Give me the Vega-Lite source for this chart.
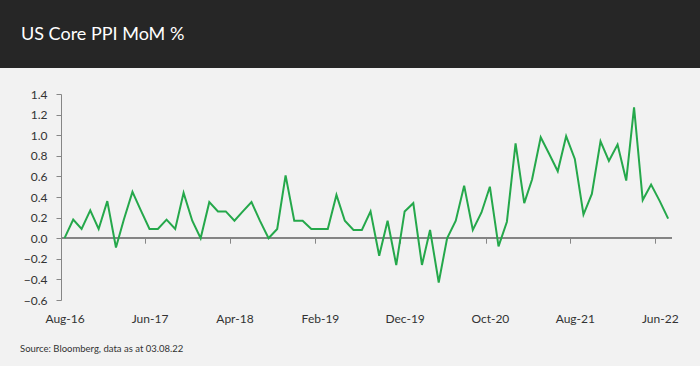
{
  "$schema": "https://vega.github.io/schema/vega-lite/v6.json",
  "background": "#f2f2f2",
  "padding": {"left": 0, "top": 0, "right": 0, "bottom": 14},
  "config": {
    "view": {"stroke": null},
    "axis": {"labelFont": "Lato", "labelFontSize": 12, "labelColor": "#333333"}
  },
  "spacing": 20,
  "vconcat": [
    {
      "width": 700,
      "height": 68,
      "view": {"fill": "#262626", "stroke": null},
      "data": {"values": [{}]},
      "mark": {"type": "rect", "color": "#262626"},
      "encoding": {},
      "title": {
        "text": "US Core PPI MoM %",
        "anchor": "start",
        "frame": "group",
        "orient": "top",
        "offset": -40,
        "baseline": "alphabetic",
        "dx": 21,
        "dy": 18,
        "color": "#ffffff",
        "font": "Lato",
        "fontSize": 18,
        "fontWeight": "normal"
      }
    },
    {
      "width": 700,
      "height": 206,
      "data": {
        "values": [
          {"date": "2016-08", "value": 0.0},
          {"date": "2016-09", "value": 0.18},
          {"date": "2016-10", "value": 0.09},
          {"date": "2016-11", "value": 0.27},
          {"date": "2016-12", "value": 0.09},
          {"date": "2017-01", "value": 0.36},
          {"date": "2017-02", "value": -0.09},
          {"date": "2017-03", "value": 0.18},
          {"date": "2017-04", "value": 0.45},
          {"date": "2017-05", "value": 0.27},
          {"date": "2017-06", "value": 0.09},
          {"date": "2017-07", "value": 0.09},
          {"date": "2017-08", "value": 0.18},
          {"date": "2017-09", "value": 0.09},
          {"date": "2017-10", "value": 0.44},
          {"date": "2017-11", "value": 0.17},
          {"date": "2017-12", "value": 0.0},
          {"date": "2018-01", "value": 0.35},
          {"date": "2018-02", "value": 0.26},
          {"date": "2018-03", "value": 0.26},
          {"date": "2018-04", "value": 0.17},
          {"date": "2018-05", "value": 0.26},
          {"date": "2018-06", "value": 0.35},
          {"date": "2018-07", "value": 0.17},
          {"date": "2018-08", "value": 0.0},
          {"date": "2018-09", "value": 0.09},
          {"date": "2018-10", "value": 0.61},
          {"date": "2018-11", "value": 0.17},
          {"date": "2018-12", "value": 0.17},
          {"date": "2019-01", "value": 0.09},
          {"date": "2019-02", "value": 0.09},
          {"date": "2019-03", "value": 0.09},
          {"date": "2019-04", "value": 0.42},
          {"date": "2019-05", "value": 0.17},
          {"date": "2019-06", "value": 0.08},
          {"date": "2019-07", "value": 0.08},
          {"date": "2019-08", "value": 0.26},
          {"date": "2019-09", "value": -0.17},
          {"date": "2019-10", "value": 0.17},
          {"date": "2019-11", "value": -0.26},
          {"date": "2019-12", "value": 0.26},
          {"date": "2020-01", "value": 0.34},
          {"date": "2020-02", "value": -0.26},
          {"date": "2020-03", "value": 0.08},
          {"date": "2020-04", "value": -0.43},
          {"date": "2020-05", "value": 0.0},
          {"date": "2020-06", "value": 0.17},
          {"date": "2020-07", "value": 0.51},
          {"date": "2020-08", "value": 0.08},
          {"date": "2020-09", "value": 0.25},
          {"date": "2020-10", "value": 0.50},
          {"date": "2020-11", "value": -0.08},
          {"date": "2020-12", "value": 0.16},
          {"date": "2021-01", "value": 0.92},
          {"date": "2021-02", "value": 0.34},
          {"date": "2021-03", "value": 0.57},
          {"date": "2021-04", "value": 0.98},
          {"date": "2021-05", "value": 0.82},
          {"date": "2021-06", "value": 0.65},
          {"date": "2021-07", "value": 0.99},
          {"date": "2021-08", "value": 0.77},
          {"date": "2021-09", "value": 0.23},
          {"date": "2021-10", "value": 0.43},
          {"date": "2021-11", "value": 0.94},
          {"date": "2021-12", "value": 0.75},
          {"date": "2022-01", "value": 0.91},
          {"date": "2022-02", "value": 0.56},
          {"date": "2022-03", "value": 1.27},
          {"date": "2022-04", "value": 0.37},
          {"date": "2022-05", "value": 0.52},
          {"date": "2022-06", "value": 0.36},
          {"date": "2022-07", "value": 0.19}
        ],
        "format": {"parse": {"date": "date:'%Y-%m'"}}
      },
      "title": {
        "text": "Source: Bloomberg, data as at 03.08.22",
        "orient": "bottom",
        "anchor": "start",
        "frame": "group",
        "dx": 20,
        "offset": 20,
        "baseline": "top",
        "font": "Lato",
        "fontSize": 9.5,
        "fontWeight": "normal",
        "color": "#333333"
      },
      "resolve": {"axis": {"x": "independent"}},
      "layer": [
        {
          "mark": {"type": "rule", "color": "#868686", "strokeWidth": 1},
          "encoding": {
            "x": {"datum": {"year": 2016, "month": 7, "date": 20}, "type": "temporal", "axis": null},
            "x2": {"datum": {"year": 2022, "month": 7, "date": 14}},
            "y": {
              "datum": 0,
              "type": "quantitative",
              "axis": {
                "values": [-0.6, -0.4, -0.2, 0, 0.2, 0.4, 0.6, 0.8, 1.0, 1.2, 1.4],
                "format": ".1f",
                "grid": false,
                "offset": -61,
                "domainColor": "#868686",
                "tickColor": "#868686",
                "tickSize": 5,
                "labelPadding": 9,
                "labelOverlap": false,
                "labelBound": false,
                "title": null
              }
            }
          }
        },
        {
          "mark": {"type": "point", "opacity": 0},
          "encoding": {
            "x": {
              "field": "date",
              "type": "temporal",
              "axis": {
                "orient": "bottom",
                "values": [
                  {"year": 2017, "month": 5, "date": 16},
                  {"year": 2018, "month": 3, "date": 16},
                  {"year": 2019, "month": 1, "date": 16},
                  {"year": 2019, "month": 11, "date": 16},
                  {"year": 2020, "month": 9, "date": 16},
                  {"year": 2021, "month": 7, "date": 16},
                  {"year": 2022, "month": 5, "date": 16}
                ],
                "labels": false,
                "domain": false,
                "ticks": true,
                "tickSize": 5,
                "tickColor": "#868686",
                "offset": -61.8,
                "grid": false,
                "title": null
              }
            }
          }
        },
        {
          "mark": {"type": "line", "color": "#25a84b", "strokeWidth": 2},
          "encoding": {
            "x": {
              "field": "date",
              "type": "temporal",
              "scale": {
                "domain": [
                  {"year": 2015, "month": 12, "date": 14},
                  {"year": 2022, "month": 10, "date": 23}
                ],
                "nice": false
              },
              "axis": {
                "orient": "bottom",
                "values": [
                  {"year": 2016, "month": 8, "date": 1},
                  {"year": 2017, "month": 6, "date": 1},
                  {"year": 2018, "month": 4, "date": 1},
                  {"year": 2019, "month": 2, "date": 1},
                  {"year": 2019, "month": 12, "date": 1},
                  {"year": 2020, "month": 10, "date": 1},
                  {"year": 2021, "month": 8, "date": 1},
                  {"year": 2022, "month": 6, "date": 1}
                ],
                "format": "%b-%y",
                "domain": false,
                "ticks": false,
                "grid": false,
                "labelPadding": 13,
                "labelFlush": false,
                "labelOverlap": false,
                "title": null
              }
            },
            "y": {
              "field": "value",
              "type": "quantitative",
              "scale": {"domain": [-0.6, 1.4], "nice": false, "zero": false},
              "axis": {
                "values": [-0.6, -0.4, -0.2, 0, 0.2, 0.4, 0.6, 0.8, 1.0, 1.2, 1.4],
                "format": ".1f",
                "grid": false,
                "offset": -61,
                "domainColor": "#868686",
                "tickColor": "#868686",
                "tickSize": 5,
                "labelPadding": 9,
                "labelOverlap": false,
                "labelBound": false,
                "title": null
              }
            }
          }
        }
      ]
    }
  ]
}
